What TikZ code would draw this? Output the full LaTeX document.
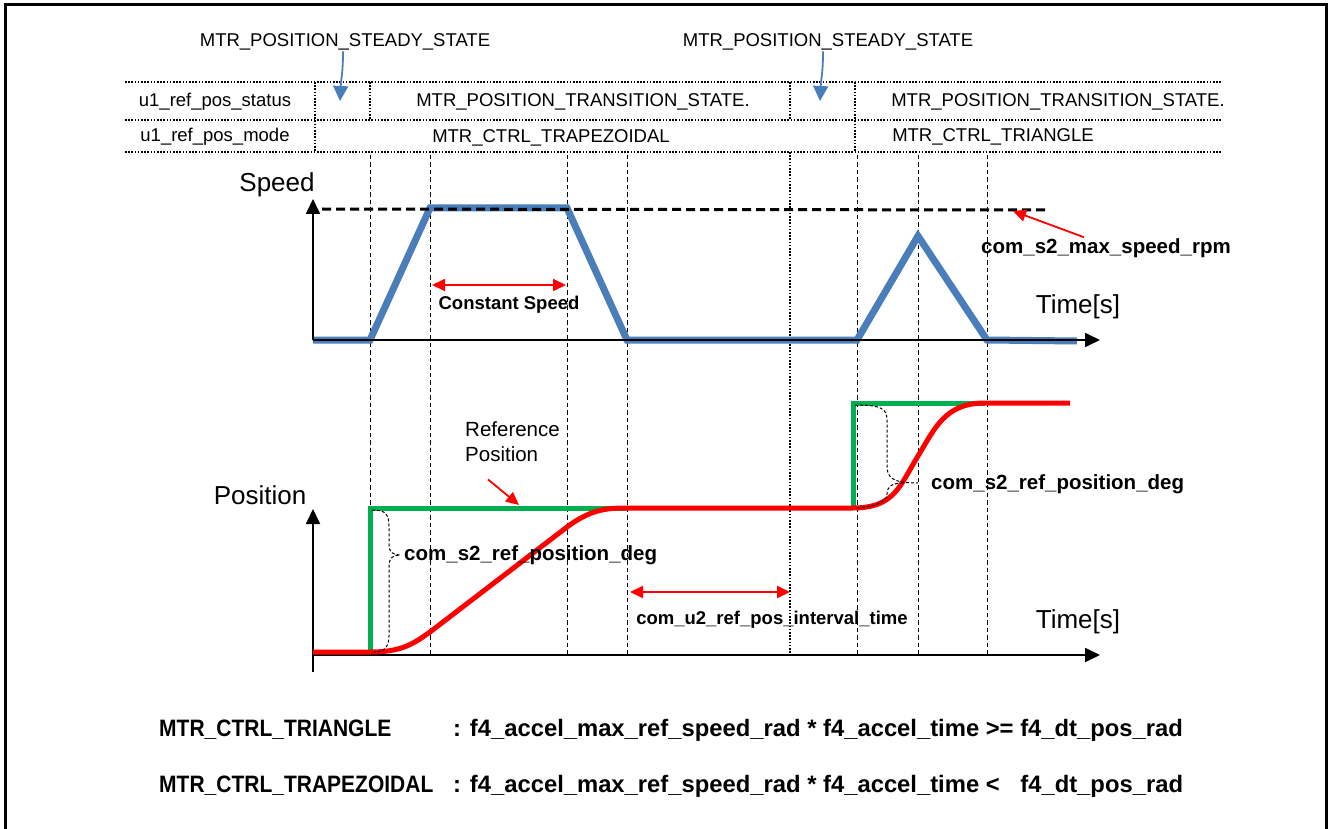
\documentclass[tikz,border=0pt]{standalone}
\usepackage{fontspec}
\setmainfont{Liberation Sans}
\usetikzlibrary{arrows.meta,positioning,calc}

\definecolor{speedblue}{RGB}{74,126,187}
\definecolor{refgreen}{RGB}{0,176,80}

\begin{document}
\begin{tikzpicture}[
  x=1pt, y=-1pt,
  every node/.style={inner sep=1pt, font=\fontsize{18.5}{22}\selectfont},
  >={Triangle[length=13pt,width=12pt]},
  axlabel/.style={font=\fontsize{26}{30}\selectfont},
  boldlabel/.style={font=\bfseries\fontsize{20.5}{24}\selectfont},
  smallbold/.style={font=\bfseries\fontsize{18.5}{22}\selectfont},
  modename/.style={font=\bfseries\fontsize{21}{25}\selectfont, anchor=west},
  condition/.style={font=\bfseries\fontsize{23.8}{28}\selectfont, anchor=west},
  rowline/.style={line width=1.6pt, dash pattern=on 1.6pt off 1.6pt},
  timeline/.style={line width=0.9pt, dash pattern=on 4.5pt off 3pt},
  axisline/.style={line width=1.8pt, -{Triangle[length=15pt,width=14pt]}},
  speedline/.style={line width=7pt, speedblue},
  maxline/.style={line width=3pt, dash pattern=on 9pt off 5pt},
  refline/.style={line width=5pt, refgreen},
  posline/.style={line width=5pt, red},
  statearrow/.style={line width=1.8pt, speedblue, -{Triangle[length=15pt,width=15pt]}},
  pointer/.style={red, line width=1.8pt, ->},
  spanarrow/.style={red, line width=1.8pt, <->},
  bracepath/.style={line width=1pt, dash pattern=on 3pt off 2pt}
]
\useasboundingbox (0,0) rectangle (1328,829);

% Frame
\draw[line width=3pt] (5,829) -- (5,5) -- (1326,5) -- (1326,829);

% State table
\node (steady1) at (345,42) {MTR\_POSITION\_STEADY\_STATE};
\node (steady2) at (828,42) {MTR\_POSITION\_STEADY\_STATE};
\node (status) at (215,102) {u1\_ref\_pos\_status};
\node (mode) at (215,137) {u1\_ref\_pos\_mode};
\node (trans1) at (583,102) {MTR\_POSITION\_TRANSITION\_STATE.};
\node (trans2) at (1058,102) {MTR\_POSITION\_TRANSITION\_STATE.};
\node (trap) at (551,138) {MTR\_CTRL\_TRAPEZOIDAL};
\node (tri) at (993,137) {MTR\_CTRL\_TRIANGLE};

\foreach \y in {82,120,152}
  \draw[rowline] (125,\y) -- (1222,\y);
\draw[rowline] (315,82) -- (315,152);
\draw[rowline] (370,82) -- (370,120);
\draw[rowline] (790,82) -- (790,120);
\draw[rowline] (855,82) -- (855,152);

\coordinate (s1tip) at (340,101);
\coordinate (s2tip) at (820,101);
\draw[statearrow] ([xshift=-2pt]steady1.south) .. controls +(0,22) and +(1,-22) .. (s1tip);
\draw[statearrow] ([xshift=-5pt]steady2.south) .. controls +(0,22) and +(1,-22) .. (s2tip);

% Time marks
\foreach \t in {370,430,567,627,857,918,987}
  \draw[timeline] (\t,155) -- (\t,657);
\draw[rowline, line width=1.3pt] (790,152) -- (790,655);

% Speed profile
\coordinate (vO) at (313,340);
\coordinate (vTop) at (313,199);
\coordinate (vEnd) at (1100,340);
\draw[speedline] (313,340) -- (370,340) -- (430,208) -- (567,208) -- (627,340)
  -- (857,340) -- (918,236) -- (987,340) -- (1077,341);
\draw[axisline] (vO) -- (vTop);
\draw[axisline] (vO) -- (vEnd);
\draw[maxline] (322,209) -- (1045,210);

\node[axlabel] (speed) at (277,185) {Speed};
\node[axlabel] (time1) at (1078,307) {Time[s]};

\coordinate (csL) at (432,285);
\coordinate (csR) at (566,285);
\draw[spanarrow] (csL) -- (csR);
\node[smallbold] (const) at (509,305) {Constant Speed};

\node[boldlabel] (maxspd) at (1106,248) {com\_s2\_max\_speed\_rpm};
\coordinate (maxtip) at (1013,211);
\draw[pointer] ([xshift=-22pt]maxspd.north) -- (maxtip);

% Position profile
\coordinate (pO) at (313,655);
\coordinate (pLow) at (313,672);
\coordinate (pTop) at (313,509);
\coordinate (pEnd) at (1100,655);
\draw[axisline] (pLow) -- (pTop);
\draw[axisline] (pO) -- (pEnd);

\draw[refline] (370,652) -- (370,508) -- (627,508);
\draw[refline] (853,508) -- (853,403) -- (985,403);
\draw[posline] (313,652) -- (370,652) .. controls (400,652) and (412,645) .. (430,632)
  -- (567,527) .. controls (590,510) and (605,508) .. (627,508) -- (853,508)
  .. controls (895,508) and (900,485) .. (918,456)
  .. controls (935,428) and (945,403) .. (985,403) -- (1070,403);

\node[axlabel] (pos) at (260,495) {Position};
\node[axlabel] (time2) at (1078,622) {Time[s]};

\node[font=\fontsize{20.5}{25}\selectfont, align=left, anchor=north west] (refpos) at (464,420) {Reference\\Position};
\coordinate (rptip) at (519,505);
\draw[pointer] ([xshift=24pt,yshift=-17pt]refpos.south west) -- (rptip);

% Braces
\draw[bracepath] (372,510) .. controls (386,510) and (389,514) .. (389,528) -- (389,545)
  .. controls (389,552) and (393,555) .. (400,555)
  .. controls (393,555) and (389,558) .. (389,566) -- (389,636)
  .. controls (389,648) and (383,652) .. (374,652);
\node[boldlabel, anchor=west] (dpos1) at (403,555) {com\_s2\_ref\_position\_deg};

\draw[bracepath] (855,405) .. controls (880,405) and (887,408) .. (887,420) -- (887,466)
  .. controls (887,478) and (893,483) .. (918,483);
\draw[bracepath] (903,483) .. controls (893,483) and (887,486) .. (887,494)
  .. controls (887,502) and (875,507) .. (856,508);
\node[boldlabel, anchor=west] (dpos2) at (930,484) {com\_s2\_ref\_position\_deg};

\coordinate (ivL) at (630,592);
\coordinate (ivR) at (790,592);
\draw[spanarrow] (ivL) -- (ivR);
\node[smallbold] (interval) at (772,620) {com\_u2\_ref\_pos\_interval\_time};

% Mode conditions
\node[modename] (triname) at (158,730) {\scalebox{1}[1.13]{MTR\_CTRL\_TRIANGLE}};
\node[condition] (tricond) at (452,730) {: f4\_accel\_max\_ref\_speed\_rad * f4\_accel\_time >= f4\_dt\_pos\_rad};
\node[modename] (trapname) at (158,786) {\scalebox{1}[1.13]{MTR\_CTRL\_TRAPEZOIDAL}};
\node[condition] (trapcond) at (452,786) {: f4\_accel\_max\_ref\_speed\_rad * f4\_accel\_time <\hspace{14pt} f4\_dt\_pos\_rad};

\end{tikzpicture}
\end{document}
